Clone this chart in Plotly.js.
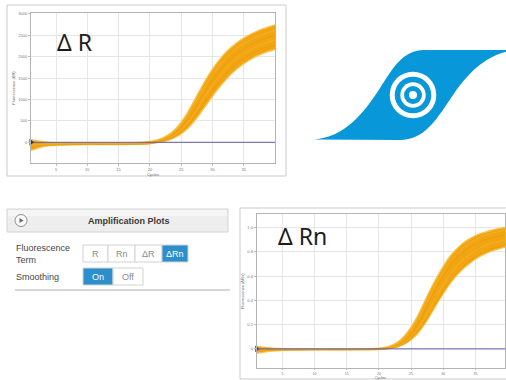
<!DOCTYPE html>
<html>
<head>
<meta charset="utf-8">
<script src="https://cdn.plot.ly/plotly-3.0.1.min.js"></script>
<style>
  html, body { margin: 0; padding: 0; background: #ffffff; }
  #chart { width: 506px; height: 380px; }
</style>
</head>
<body>
<div id="chart"></div>
<script>
// Cycle numbers at which each amplification curve was sampled
const cycles = [1, 3, 5, 10, 15, 18, 20, 21, 22, 23, 24, 25, 26, 27, 28, 29, 30, 31, 32, 33, 34, 35, 36, 37, 38, 39, 40];

// ΔR curves (fluorescence units), earliest/highest well first
const dR_A = [60, 10, -10, -20, -20, -10, 20, 50, 100, 180, 300, 470, 690, 950, 1220, 1480, 1710, 1910, 2080, 2220, 2340, 2440, 2520, 2590, 2650, 2700, 2745];
const dR_B = [20, -20, -30, -30, -30, -25, 0, 30, 75, 145, 255, 410, 610, 850, 1110, 1360, 1580, 1780, 1950, 2090, 2210, 2310, 2390, 2460, 2520, 2575, 2620];
const dR_C = [-20, -40, -45, -40, -40, -35, -15, 12, 55, 115, 210, 345, 525, 745, 990, 1230, 1450, 1650, 1820, 1965, 2085, 2185, 2270, 2340, 2405, 2455, 2500];
const dR_D = [-60, -55, -55, -45, -45, -40, -25, 2, 40, 92, 172, 290, 450, 650, 880, 1110, 1330, 1525, 1700, 1845, 1965, 2070, 2155, 2230, 2295, 2345, 2390];
const dR_E = [-110, -75, -60, -50, -50, -45, -30, -6, 25, 70, 140, 240, 380, 560, 770, 990, 1205, 1400, 1575, 1725, 1850, 1955, 2045, 2120, 2185, 2235, 2280];
const dR_F = [-190, -100, -70, -55, -55, -50, -35, -15, 12, 50, 110, 195, 315, 475, 665, 870, 1075, 1265, 1440, 1595, 1725, 1835, 1930, 2010, 2075, 2125, 2170];

// ΔRn curves (normalized reporter), same wells
const dRn_A = [0.02, 0.008, 0.002, -0.002, -0.002, 0.0, 0.006, 0.014, 0.03, 0.06, 0.11, 0.18, 0.27, 0.38, 0.49, 0.59, 0.68, 0.76, 0.82, 0.87, 0.905, 0.935, 0.955, 0.972, 0.985, 0.996, 1.005];
const dRn_B = [0.015, 0.004, 0.0, -0.003, -0.003, -0.002, 0.003, 0.01, 0.022, 0.047, 0.09, 0.15, 0.235, 0.335, 0.44, 0.545, 0.635, 0.715, 0.78, 0.83, 0.87, 0.9, 0.925, 0.945, 0.96, 0.972, 0.982];
const dRn_C = [0.01, 0.0, -0.003, -0.005, -0.005, -0.004, 0.0, 0.005, 0.015, 0.035, 0.06, 0.12, 0.2, 0.3, 0.41, 0.51, 0.6, 0.68, 0.745, 0.795, 0.835, 0.865, 0.89, 0.908, 0.922, 0.934, 0.944];
const dRn_D = [0.0, -0.006, -0.007, -0.006, -0.006, -0.005, -0.002, 0.002, 0.01, 0.027, 0.055, 0.1, 0.16, 0.245, 0.34, 0.44, 0.53, 0.61, 0.675, 0.73, 0.775, 0.81, 0.84, 0.862, 0.88, 0.893, 0.904];
const dRn_E = [-0.02, -0.012, -0.01, -0.007, -0.007, -0.006, -0.004, 0.0, 0.007, 0.02, 0.045, 0.083, 0.14, 0.21, 0.295, 0.385, 0.47, 0.55, 0.615, 0.675, 0.72, 0.76, 0.79, 0.815, 0.835, 0.852, 0.866];
const dRn_F = [-0.035, -0.02, -0.012, -0.008, -0.008, -0.007, -0.005, -0.002, 0.006, 0.018, 0.04, 0.075, 0.125, 0.195, 0.28, 0.37, 0.455, 0.535, 0.6, 0.655, 0.7, 0.74, 0.77, 0.795, 0.815, 0.83, 0.845];

// Threshold levels
const thresholdDR = [0];
const thresholdDRn = [0];

// Tick labels
const cycleTicks = [5, 10, 15, 20, 25, 30, 35];
const dRTicks = [0, 500, 1000, 1500, 2000, 2500, 3000];
const dRnTicks = [0, 0.2, 0.4, 0.6, 0.8, 1.0];
const dRnTickText = ['0', '0.2', '0.4', '0.6', '0.8', '1.0'];

// UI panel labels
const termButtons = ['R', 'Rn', 'ΔR', 'ΔRn'];
const smoothButtons = ['On', 'Off'];

const W = 506, H = 380;
const px = x => x / W;
const py = y => 1 - y / H;

const BAND = '#F2A512';
const EDGE = '#F7C24E';
const STREAK = '#EC9C06';
const THRESH = '#5F5AAE';

function bandTraces(curves, xa, ya, thr, markerColor) {
  const [a, b, c, d, e, f] = curves;
  const base = { x: cycles, mode: 'lines', xaxis: xa, yaxis: ya, hoverinfo: 'skip', showlegend: false,
                 line: { shape: 'spline', smoothing: 0.8, width: 1, color: EDGE } };
  const t = [];
  t.push(Object.assign({}, base, { y: f, line: Object.assign({}, base.line, { color: EDGE, width: 1.3 }) }));
  t.push(Object.assign({}, base, { y: a, fill: 'tonexty', fillcolor: BAND, line: Object.assign({}, base.line, { color: EDGE, width: 1.3 }) }));
  [b, c, d, e].forEach((yy, i) => {
    t.push(Object.assign({}, base, { y: yy, line: Object.assign({}, base.line, { color: i % 2 ? STREAK : '#F4B12A', width: 0.9 }) }));
  });
  t.push({ x: [cycles[0], cycles[cycles.length - 1]], y: [thr[0], thr[0]], mode: 'lines', xaxis: xa, yaxis: ya,
           hoverinfo: 'skip', showlegend: false, line: { color: THRESH, width: 1 } });
  t.push({ x: [cycles[0]], y: thr, mode: 'markers', xaxis: xa, yaxis: ya, cliponaxis: false,
           hoverinfo: 'skip', showlegend: false,
           marker: { symbol: 'triangle-right', size: 6, color: markerColor } });
  return t;
}

const data = [].concat(
  bandTraces([dR_A, dR_B, dR_C, dR_D, dR_E, dR_F], 'x', 'y', thresholdDR, '#2B3270'),
  bandTraces([dRn_A, dRn_B, dRn_C, dRn_D, dRn_E, dRn_F], 'x2', 'y2', thresholdDRn, '#4B47B8')
);

const tickFont = { family: 'Liberation Sans, Arial, sans-serif', size: 4, color: '#777' };
const titleFont = { family: 'Liberation Sans, Arial, sans-serif', size: 4, color: '#666' };
const axisCommon = {
  showgrid: true, gridcolor: '#e6e6e6', gridwidth: 1, zeroline: false,
  showline: true, linecolor: '#b4b4b4', linewidth: 1, mirror: true,
  ticks: 'outside', ticklen: 2, tickcolor: '#bdbdbd', tickfont: tickFont,
  fixedrange: true
};

const shapes = [];
const annotations = [];

function rect(x0, y0, x1, y1, line, fill, width, layer) {
  shapes.push({ type: 'rect', xref: 'paper', yref: 'paper', x0: px(x0), x1: px(x1), y0: py(y0), y1: py(y1),
                line: { color: line || 'rgba(0,0,0,0)', width: width === undefined ? 1 : width },
                fillcolor: fill || 'rgba(0,0,0,0)', layer: layer || 'above' });
}
function circle(cx, cy, r, fill, line, width) {
  shapes.push({ type: 'circle', xref: 'paper', yref: 'paper', x0: px(cx - r), x1: px(cx + r), y0: py(cy + r), y1: py(cy - r),
                line: { color: line || 'rgba(0,0,0,0)', width: width || 0 }, fillcolor: fill, layer: 'above' });
}
function path(pts, fill, line, width) {
  // pts: list of commands with pixel coordinates, converted to paper fractions
  const d = pts.map(p => {
    if (typeof p === 'string') return p;
    return px(p[0]).toFixed(5) + ',' + py(p[1]).toFixed(5);
  }).join(' ');
  shapes.push({ type: 'path', xref: 'paper', yref: 'paper', path: d,
                fillcolor: fill || 'rgba(0,0,0,0)', line: { color: line || 'rgba(0,0,0,0)', width: width || 0 }, layer: 'above' });
}
function text(x, y, s, size, color, opts) {
  annotations.push(Object.assign({ xref: 'paper', yref: 'paper', x: px(x), y: py(y), text: s, showarrow: false,
    xanchor: 'center', yanchor: 'middle', borderpad: 0,
    font: { family: 'Liberation Sans, Arial, sans-serif', size: size, color: color } }, opts || {}));
}

// Chart frames
rect(7, 5, 286, 176, '#cbcbcb', null, 1, 'below');
rect(240, 208, 530, 379, '#cbcbcb', null, 1, 'below');

// Plot captions
text(56, 42, 'Δ R', 23, '#1c1c1c', { xanchor: 'left', font: { family: 'Noto Sans, sans-serif', size: 23, color: '#1c1c1c' } });
text(277, 236, 'Δ Rn', 23, '#1c1c1c', { xanchor: 'left', font: { family: 'Noto Sans, sans-serif', size: 23, color: '#1c1c1c' } });

// Cycle axis title of the lower plot, tucked under its tick labels
text(380.8, 377.6, 'Cycles', 3.6, '#666', { borderpad: 0, yanchor: 'middle' });

// Blue emblem
const BLUE = '#0898DA';
path(['M', [314, 139.5], 'L', [400, 140], 'C', [424, 140], [436, 120], [449, 101], 'C', [464, 78], [482, 55], [514, 50],
      'L', [424, 50], 'C', [402, 50], [392, 70], [380, 88], 'C', [364, 113], [345, 137], [314, 139.5], 'Z'], BLUE);
circle(413, 95, 23.3, '#ffffff');
circle(413, 95, 18.3, BLUE);
circle(413, 95, 12.7, '#ffffff');
circle(413, 95, 9, BLUE);
circle(413, 95, 4, '#ffffff');

// Amplification Plots settings panel
rect(7, 209, 228, 232, '#d3d3d3', '#eeeeee', 1);
rect(8, 210, 227, 216, null, '#f5f5f5', 0);
circle(21, 220.5, 6, '#fafafa', '#8d8d8d', 1);
path(['M', [19.5, 218], 'L', [23.5, 220.5], 'L', [19.5, 223], 'Z'], '#6a6a6a');
text(129, 221, '<b>Amplification Plots</b>', 9, '#3a3a3a');

text(15, 248, 'Fluorescence', 9, '#454545', { xanchor: 'left' });
text(15, 260, 'Term', 9, '#454545', { xanchor: 'left' });
text(15, 277, 'Smoothing', 9, '#454545', { xanchor: 'left' });

const termEdges = [83, 108, 135, 162, 188];
termButtons.forEach((lab, i) => {
  const sel = i === termButtons.length - 1;
  rect(termEdges[i], 245, termEdges[i + 1], 262, '#d2d2d2', sel ? '#2C8FCB' : '#ffffff', 1);
  text((termEdges[i] + termEdges[i + 1]) / 2, 253.5, lab, 9, sel ? '#ffffff' : '#8a8a8a');
});
const smoothEdges = [83, 113, 143];
smoothButtons.forEach((lab, i) => {
  const sel = i === 0;
  rect(smoothEdges[i], 268, smoothEdges[i + 1], 285, '#d2d2d2', sel ? '#2C8FCB' : '#ffffff', 1);
  text((smoothEdges[i] + smoothEdges[i + 1]) / 2, 276.5, lab, 9, sel ? '#ffffff' : '#8a8a8a');
});
shapes.push({ type: 'line', xref: 'paper', yref: 'paper', x0: px(15), x1: px(230), y0: py(290), y1: py(290),
              line: { color: '#d6d6d6', width: 2 } });

const layout = {
  width: W, height: H,
  margin: { l: 0, r: 0, t: 0, b: 0, pad: 0 },
  paper_bgcolor: '#ffffff', plot_bgcolor: '#ffffff',
  showlegend: false,
  xaxis: Object.assign({}, axisCommon, {
    domain: [px(31), px(275)], range: [1, 40], anchor: 'y', tickvals: cycleTicks,
    title: { text: 'Cycles', font: titleFont, standoff: 2 }
  }),
  yaxis: Object.assign({}, axisCommon, {
    domain: [py(162.7), py(13.3)], range: [-477, 3016], anchor: 'x', tickvals: dRTicks,
    title: { text: 'Fluorescence (ΔR)', font: titleFont, standoff: 2 }
  }),
  xaxis2: Object.assign({}, axisCommon, {
    domain: [px(256.7), px(505)], range: [1, 39.6], anchor: 'y2', tickvals: cycleTicks, ticklen: 1,
    tickfont: { family: 'Liberation Sans, Arial, sans-serif', size: 3.6, color: '#777' }
  }),
  yaxis2: Object.assign({}, axisCommon, {
    domain: [py(368.3), py(214.3)], range: [-0.16, 1.11], anchor: 'x2', tickvals: dRnTicks, ticktext: dRnTickText,
    title: { text: 'Fluorescence (ΔRn)', font: titleFont, standoff: 2 }
  }),
  shapes: shapes,
  annotations: annotations
};

Plotly.newPlot('chart', data, layout, { staticPlot: true, displayModeBar: false });
</script>
</body>
</html>
